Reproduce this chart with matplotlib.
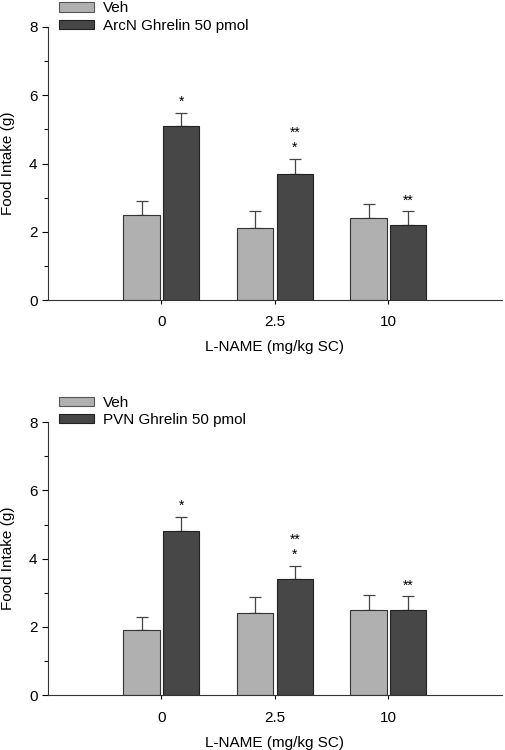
import matplotlib
matplotlib.use("Agg")
import matplotlib.pyplot as plt
import numpy as np
from matplotlib.patches import Patch

plt.rcParams['font.family'] = ['Liberation Sans', 'DejaVu Sans']

categories = ["0", "2.5", "10"]
veh_top = [2.5, 2.1, 2.4]
veh_top_err = [0.4, 0.5, 0.4]
arc_top = [5.1, 3.7, 2.2]
arc_top_err = [0.38, 0.43, 0.4]
stars_top = [["*"], ["*", "**"], ["**"]]

veh_bot = [1.9, 2.4, 2.5]
veh_bot_err = [0.38, 0.47, 0.45]
pvn_bot = [4.8, 3.4, 2.5]
pvn_bot_err = [0.43, 0.38, 0.4]
stars_bot = [["*"], ["*", "**"], ["**"]]

legend_top = ["Veh", "ArcN Ghrelin 50 pmol"]
legend_bot = ["Veh", "PVN Ghrelin 50 pmol"]

c_light = "#b0b0b0"
c_dark = "#474747"

fig = plt.figure(figsize=(5.05, 7.5), dpi=100)

def panel(rect, veh, veh_err, drug, drug_err, stars, labels, leg_y):
    ax = fig.add_axes(rect)
    x = np.arange(len(categories))
    w = 0.32
    off = 0.175
    ax.bar(x - off, veh, w, color=c_light, edgecolor="#333333", linewidth=0.8, zorder=2)
    ax.bar(x + off, drug, w, color=c_dark, edgecolor="#222222", linewidth=0.8, zorder=2)
    ax.errorbar(x - off, veh, yerr=[np.zeros(3), veh_err], fmt="none",
                ecolor="#444444", elinewidth=0.9, capsize=4.5, capthick=0.9, zorder=1)
    ax.errorbar(x + off, drug, yerr=[np.zeros(3), drug_err], fmt="none",
                ecolor="#444444", elinewidth=0.9, capsize=4.5, capthick=0.9, zorder=1)
    for i in range(len(categories)):
        base = drug[i] + drug_err[i] + 0.32
        for j, s in enumerate(stars[i]):
            ax.text(x[i] + off, base + j * 0.45, s, ha="center", va="center", fontsize=10)
    ax.set_xlim(-1, 3)
    ax.set_ylim(0, 8)
    ax.set_xticks(x)
    ax.set_xticklabels(categories, fontsize=11)
    ax.set_yticks([0, 2, 4, 6, 8])
    ax.set_yticks([1, 3, 5, 7], minor=True)
    ax.tick_params(axis="y", labelsize=11, direction="out", length=4, width=0.8)
    ax.tick_params(axis="y", which="minor", length=3, width=0.8)
    ax.tick_params(axis="x", direction="out", length=3, width=0.8, pad=8)
    for s in ["top", "right"]:
        ax.spines[s].set_visible(False)
    for s in ["left", "bottom"]:
        ax.spines[s].set_linewidth(0.8)
        ax.spines[s].set_color("#333333")
    ax.set_xlabel("L-NAME (mg/kg SC)", fontsize=11, labelpad=8)
    ax.set_ylabel("Food Intake (g)", fontsize=11, labelpad=10)
    handles = [Patch(facecolor=c_light, edgecolor="#555555", linewidth=0.8),
               Patch(facecolor=c_dark, edgecolor="#222222", linewidth=0.8)]
    fig.legend(handles, labels, loc="upper left", bbox_to_anchor=(0.117, leg_y),
               frameon=False, fontsize=11, handlelength=2.3, handleheight=0.55,
               labelspacing=0.2, handletextpad=0.55, borderpad=0, borderaxespad=0)
    return ax

panel([0.095, 0.6, 0.899, 0.364], veh_top, veh_top_err, arc_top, arc_top_err,
      stars_top, legend_top, 0.998)
panel([0.095, 0.0729, 0.899, 0.3644], veh_bot, veh_bot_err, pvn_bot, pvn_bot_err,
      stars_bot, legend_bot, 0.472)

fig.savefig("out.png", dpi=100)
